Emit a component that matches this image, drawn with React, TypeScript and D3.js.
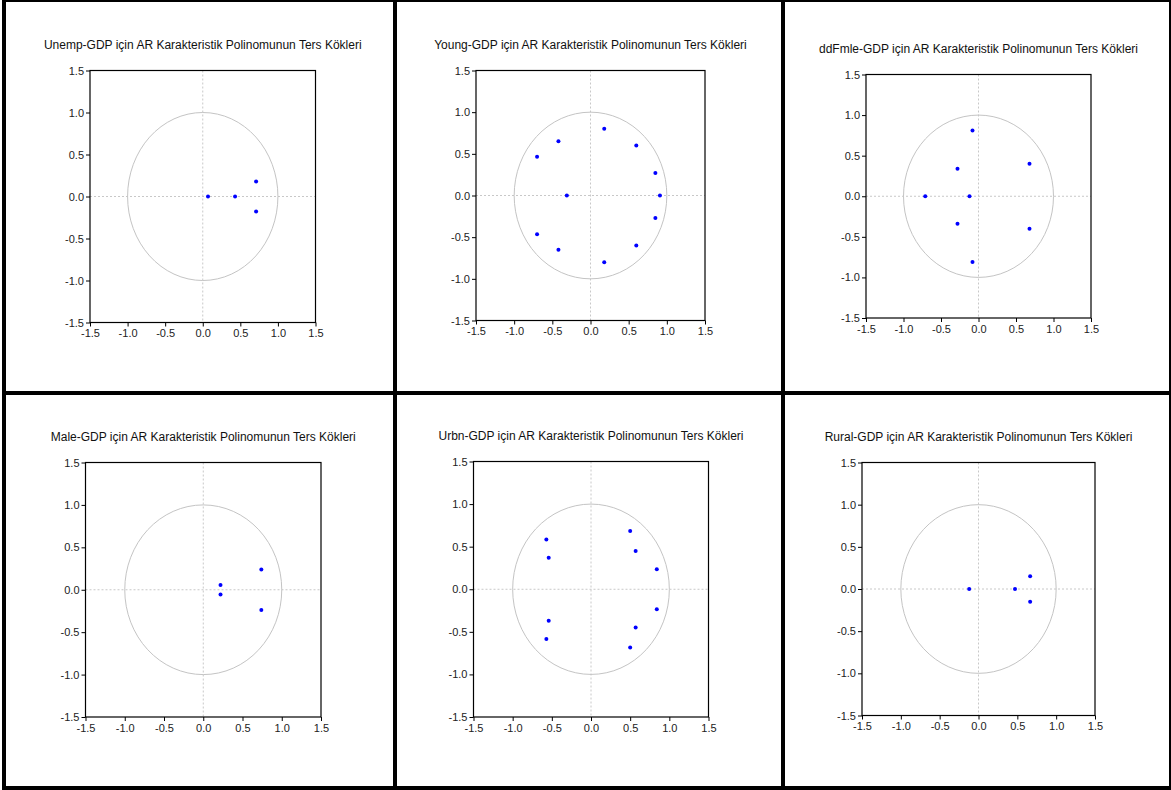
import { useRef, useEffect } from "react";
import * as d3 from "d3";

// chart titles, one per panel
const titles = [
  "Unemp-GDP için AR Karakteristik Polinomunun Ters Kökleri",
  "Young-GDP için AR Karakteristik Polinomunun Ters Kökleri",
  "ddFmle-GDP için AR Karakteristik Polinomunun Ters Kökleri",
  "Male-GDP için AR Karakteristik Polinomunun Ters Kökleri",
  "Urbn-GDP için AR Karakteristik Polinomunun Ters Kökleri",
  "Rural-GDP için AR Karakteristik Polinomunun Ters Kökleri",
];

// inverse roots: real and imaginary parts
const unempRe = [0.07, 0.43, 0.71, 0.71];
const unempIm = [0, 0, 0.18, -0.18];

const youngRe = [0.18, 0.6, 0.85, 0.91, 0.85, 0.6, 0.18, -0.31, -0.42, -0.7, -0.7, -0.42];
const youngIm = [0.8, 0.6, 0.27, 0, -0.27, -0.6, -0.8, 0, 0.65, 0.465, -0.465, -0.65];

const ddfmleRe = [-0.08, 0.68, -0.28, -0.71, -0.12, -0.28, 0.68, -0.08];
const ddfmleIm = [0.81, 0.4, 0.34, 0, 0, -0.34, -0.4, -0.81];

const maleRe = [0.22, 0.22, 0.74, 0.74];
const maleIm = [0.055, -0.055, 0.24, -0.24];

const urbnRe = [0.5, 0.57, 0.84, 0.84, 0.57, 0.5, -0.57, -0.54, -0.54, -0.57];
const urbnIm = [0.685, 0.45, 0.235, -0.235, -0.45, -0.685, 0.585, 0.37, -0.37, -0.585];

const ruralRe = [-0.12, 0.47, 0.665, 0.665];
const ruralIm = [0, 0, 0.15, -0.15];

const ticks = [-1.5, -1.0, -0.5, 0, 0.5, 1.0, 1.5];

const series = [
  [unempRe, unempIm],
  [youngRe, youngIm],
  [ddfmleRe, ddfmleIm],
  [maleRe, maleIm],
  [urbnRe, urbnIm],
  [ruralRe, ruralIm],
];

// plot frame of each panel: left, right, top, bottom
const frames = [
  [90, 315.5, 70.5, 322.5],
  [476, 705, 70.5, 320.5],
  [866, 1091, 74.5, 318],
  [85.5, 321, 462.5, 717],
  [473.5, 708.5, 461.5, 717],
  [862, 1095, 462.5, 715.5],
];

function App() {
  const svgRef = useRef(null);

  useEffect(() => {
    const W = 1171;
    const H = 790;
    const svg = d3.select(svgRef.current).attr("width", W).attr("height", H);
    svg.selectAll("*").remove();
    svg.append("rect").attr("width", W).attr("height", H).attr("fill", "#fff");

    frames.forEach(([l, r, t, b], i) => {
      const x = d3.scaleLinear().domain([-1.5, 1.5]).range([l, r]);
      const y = d3.scaleLinear().domain([-1.5, 1.5]).range([b, t]);
      const g = svg.append("g");
      const [re, im] = series[i];

      // zero lines
      g.append("line")
        .attr("x1", l).attr("x2", r)
        .attr("y1", y(0)).attr("y2", y(0))
        .attr("stroke", "#c8c8c8").attr("stroke-dasharray", "2,2");
      g.append("line")
        .attr("x1", x(0)).attr("x2", x(0))
        .attr("y1", t).attr("y2", b)
        .attr("stroke", "#c8c8c8").attr("stroke-dasharray", "2,2");

      // unit circle
      g.append("ellipse")
        .attr("cx", x(0)).attr("cy", y(0))
        .attr("rx", x(1) - x(0)).attr("ry", y(0) - y(1))
        .attr("fill", "none").attr("stroke", "#c4c4c4").attr("stroke-width", 1);

      // roots
      g.selectAll(".pt")
        .data(re)
        .join("circle")
        .attr("cx", (d) => x(d))
        .attr("cy", (d, j) => y(im[j]))
        .attr("r", 2)
        .attr("fill", "#0000ff");

      // frame
      g.append("rect")
        .attr("x", l).attr("y", t)
        .attr("width", r - l).attr("height", b - t)
        .attr("fill", "none").attr("stroke", "#000").attr("stroke-width", 1.2);

      const fmt = (d) => d.toFixed(1);
      const xAxis = d3.axisBottom(x).tickValues(ticks).tickFormat(fmt).tickSize(4).tickSizeOuter(0).tickPadding(3);
      const yAxis = d3.axisLeft(y).tickValues(ticks).tickFormat(fmt).tickSize(4).tickSizeOuter(0).tickPadding(2);
      const gx = g.append("g").attr("transform", `translate(0, ${b})`).call(xAxis);
      const gy = g.append("g").attr("transform", `translate(${l}, 0)`).call(yAxis);
      [gx, gy].forEach((a) => {
        a.select(".domain").remove();
        a.selectAll("text")
          .attr("font-family", "Liberation Sans, Arial, sans-serif")
          .attr("font-size", 11)
          .attr("fill", "#222");
        a.selectAll("line").attr("stroke", "#000");
      });

      // title
      g.append("text")
        .attr("x", (l + r) / 2)
        .attr("y", t - 22)
        .attr("text-anchor", "middle")
        .attr("font-family", "Liberation Sans, Arial, sans-serif")
        .attr("font-size", 12)
        .attr("fill", "#111")
        .text(titles[i]);
    });

    // panel borders
    const vx = [4, 395, 783, 1171];
    const hy = [0, 393, 788];
    vx.forEach((v) =>
      svg.append("line").attr("x1", v).attr("x2", v).attr("y1", 0).attr("y2", H)
        .attr("stroke", "#000").attr("stroke-width", 4)
    );
    hy.forEach((v) =>
      svg.append("line").attr("x1", 2).attr("x2", W).attr("y1", v).attr("y2", v)
        .attr("stroke", "#000").attr("stroke-width", 4)
    );
  }, []);

  return <svg ref={svgRef} style={{ position: "absolute", left: 0, top: 0 }}></svg>;
}

export default App;
